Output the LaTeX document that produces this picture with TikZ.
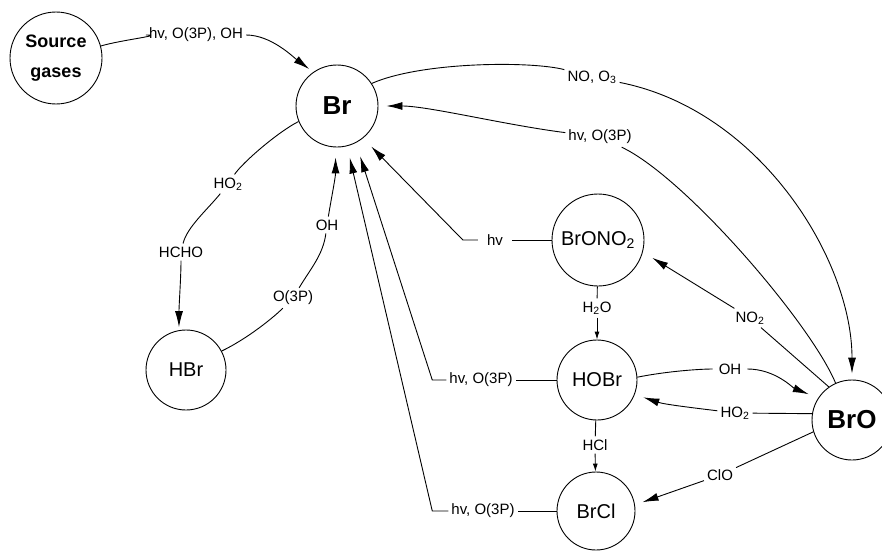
\documentclass[tikz,border=0pt]{standalone}
\usepackage{fontspec}
\setmainfont{Liberation Sans}
\usetikzlibrary{arrows.meta}
\begin{document}
\begin{tikzpicture}[x=1pt,y=-1pt,
  st/.style={circle,draw,line width=0.9pt,inner sep=0pt},
  big/.style={font=\bfseries\fontsize{26}{26}\selectfont},
  mid/.style={font=\fontsize{20}{20}\selectfont},
  lbl/.style={inner sep=3pt,font=\fontsize{15}{17}\selectfont},
  con/.style={line width=0.9pt},
  arr/.style={con,-{Latex[length=16pt,width=8pt]}},
  sarr/.style={con,-{Latex[length=8pt,width=5pt]}}]
\useasboundingbox (0,0) rectangle (882,551);

% species
\node[st,minimum size=92pt,font=\bfseries\fontsize{18}{30}\selectfont,align=center] (src) at (56,58) {Source\\gases};
\node[st,minimum size=82pt,big] (Br) at (337,106) {Br};
\node[st,minimum size=80pt,mid] (HBr) at (186,370) {HBr};
\node[st,minimum size=92pt,mid] (BrONO2) at (598,240) {BrONO\textsubscript{2}};
\node[st,minimum size=80pt,mid] (HOBr) at (597,380) {HOBr};
\node[st,minimum size=78pt,mid] (BrCl) at (596,511) {BrCl};
\node[st,minimum size=80pt,big] (BrO) at (852,420) {BrO};

% labels
\node[lbl] (l1) at (196,35) {hv, O(3P), OH};
\node[lbl] (l2) at (592,77) {NO, O\textsubscript{3}};
\node[lbl] (l3) at (600,137) {hv, O(3P)};
\node[lbl] (l4) at (228,184) {HO\textsubscript{2}};
\node[lbl] (l5) at (181,252) {HCHO};
\node[lbl] (l6) at (293,298) {O(3P)};
\node[lbl] (l7) at (327,225) {OH};
\node[lbl,inner xsep=9pt] (l8) at (495,240) {hv};
\node[lbl] (l9) at (481,380) {hv, O(3P)};
\node[lbl] (l10) at (483,511) {hv, O(3P)};
\node[lbl] (l11) at (597,308) {H\textsubscript{2}O};
\node[lbl] (l12) at (595,445) {HCl};
\node[lbl] (l13) at (750,318) {NO\textsubscript{2}};
\node[lbl,inner xsep=6pt] (l14) at (730,369) {OH};
\node[lbl] (l15) at (735,413) {HO\textsubscript{2}};
\node[lbl] (l16) at (720,475) {ClO};

% Source gases -> Br
\draw[con] (src.15) .. controls +(20,-6) and +(-30,0) .. (l1);
\draw[arr,shorten >=5pt] (l1) .. controls +(75,0) and +(-20,-15) .. (Br.125);

% Br -> BrO
\draw[con] (Br.33) .. controls +(50,-22) and +(-60,-16) .. (l2);
\draw[arr,shorten >=6pt] (l2) .. controls +(168,33) and +(0,-120) .. (BrO.90);

% BrO -> Br
\draw[con] (BrO.114) .. controls +(-25,-60) and +(85,40) .. (l3);
\draw[arr,shorten >=8pt] (l3) .. controls +(-95,-12) and +(50,0) .. (Br.0);

% Br -> HBr
\draw[con] (Br.202) .. controls +(-20,10) and +(15,-22) .. (l4);
\draw[con] (l4) .. controls +(-20,25) and +(6,-25) .. (l5);
\draw[arr,shorten >=3pt] (l5) .. controls +(0,25) and +(0,-25) .. (HBr.100);

% HBr -> Br
\draw[con] (HBr.28) .. controls +(25,-12) and +(-20,20) .. (l6);
\draw[con] (l6) .. controls +(18,-30) and +(-4,30) .. (l7);
\draw[arr,shorten >=10pt] (l7) .. controls +(4,-25) and +(0,30) .. (Br.-92);

% photolysis back to Br
\draw[con] (BrONO2.west) -- (l8);
\draw[arr,shorten >=11.6pt] (l8.west) -- ++(-15,0) -- (Br.-51);
\draw[con] (HOBr.west) -- (l9);
\draw[arr,shorten >=14pt] (l9.west) -- ++(-14,0) -- (Br.-63);
\draw[con] (BrCl.west) -- (l10);
\draw[arr,shorten >=11.6pt] (l10.west) -- ++(-16,0) -- (Br.-76);

% vertical chain
\draw[con] (BrONO2) -- (l11);
\draw[sarr] (l11) -- (HOBr);
\draw[con] (HOBr) -- (l12);
\draw[sarr] (l12) -- (BrCl);

% BrO reactions
\draw[con] (BrO.125) -- (l13);
\draw[arr,shorten >=11pt] (l13) -- (BrONO2.-15);
\draw[con] (HOBr.4) .. controls +(30,-6) and +(-30,0) .. (l14);
\draw[arr,shorten >=10pt] (l14) .. controls +(45,0) and +(-25,-10) .. (BrO.147);
\draw[con] (BrO.171) -- (l15);
\draw[arr,shorten >=9pt] (l15) .. controls +(-40,-5) and +(30,10) .. (HOBr.-21);
\draw[con] (BrO.197) -- (l16);
\draw[arr,shorten >=8pt] (l16) -- (BrCl.9);
\end{tikzpicture}
\end{document}
